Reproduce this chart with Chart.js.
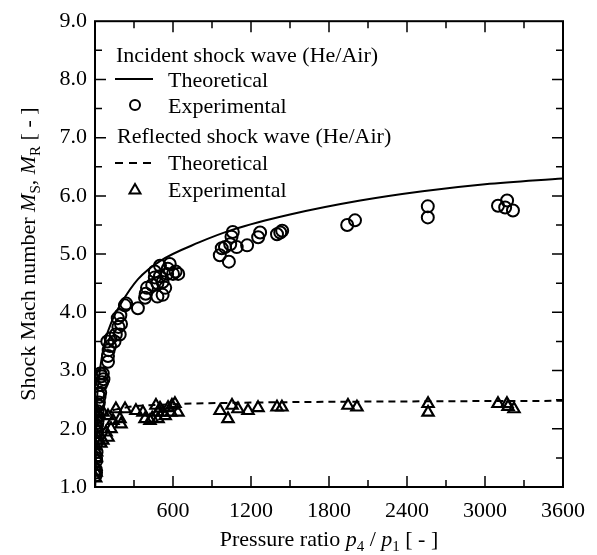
<!DOCTYPE html>
<html>
<head>
<meta charset="utf-8">
<script src="https://cdn.jsdelivr.net/npm/chart.js@4/dist/chart.umd.min.js"></script>
<style>
  html, body { margin: 0; padding: 0; background: #fff; }
  #wrap { width: 597px; height: 555px; position: relative; }
</style>
</head>
<body>
<div id="wrap"><canvas id="shockChart" width="597" height="555"></canvas></div>
<script>
// incident shock wave, experimental (p4/p1, Ms)
let incExpP  = [5, 8, 6, 10, 8, 12, 10, 15, 12, 18, 15, 20, 25, 30, 35, 25, 40, 45, 55, 50, 60, 40, 65,
                100, 100, 105, 115, 95, 150, 120, 160, 190, 180, 200, 175, 195, 230, 240, 330, 385, 390, 400,
                440, 480, 520, 460, 480, 500, 520, 540, 555, 500, 575, 600, 620, 640, 560, 460,
                960, 975, 1000, 1040, 1050, 1060, 1030, 1090, 1170, 1255, 1270, 1400, 1425, 1440,
                1940, 2000, 2560, 2560, 3100, 3170, 3155, 3215];
let incExpMs = [1.2, 1.25, 1.3, 1.45, 1.5, 1.6, 1.75, 1.95, 2.05, 2.1, 2.2, 2.3, 2.4, 2.45, 2.55, 2.6, 2.62, 2.75, 2.8, 2.9, 2.95, 2.95, 2.85,
                3.15, 3.25, 3.35, 3.42, 3.5, 3.5, 3.55, 3.62, 3.62, 3.75, 3.8, 3.9, 3.95, 4.12, 4.15, 4.07, 4.25, 4.32, 4.42,
                4.47, 4.27, 4.3, 4.6, 4.5, 4.62, 4.52, 4.42, 4.66, 4.8, 4.83, 4.66, 4.7, 4.66, 4.75, 4.7,
                4.98, 5.1, 5.12, 5.17, 5.3, 5.38, 4.87, 5.12, 5.15, 5.29, 5.37, 5.34, 5.37, 5.4,
                5.5, 5.58, 5.82, 5.63, 5.83, 5.92, 5.8, 5.75];

// reflected shock wave, experimental (p4/p1, Mr)
let refExpP  = [5, 8, 6, 10, 12, 8, 15, 10, 18, 12, 20, 15, 30, 45, 60, 85, 100, 62, 100, 123, 138, 161, 192, 200,
                231, 315, 369, 385, 423, 440, 469, 485, 485, 500, 523, 540, 562, 585, 592, 615, 638,
                962, 1023, 1054, 1100, 1177, 1254, 1400, 1438, 1946, 2015, 2562, 2562, 3100, 3169, 3177, 3223];
let refExpMr = [1.15, 1.25, 1.35, 1.5, 1.6, 1.7, 1.8, 1.9, 2.0, 2.1, 2.2, 2.3, 2.25, 1.75, 1.8, 1.94, 1.85, 2.28, 2.22, 2.0, 2.14, 2.34, 2.17, 2.08,
                2.34, 2.31, 2.28, 2.17, 2.14, 2.18, 2.4, 2.17, 2.28, 2.35, 2.28, 2.22, 2.36, 2.28, 2.4, 2.43, 2.28,
                2.31, 2.17, 2.4, 2.34, 2.31, 2.36, 2.37, 2.37, 2.4, 2.37, 2.43, 2.28, 2.43, 2.43, 2.38, 2.34];

// theoretical curves
let incTheoP  = [1, 3, 6, 10, 20, 40, 77, 130, 200, 331, 500, 800, 1060, 1500, 2040, 2520, 3000, 3600];
let incTheoMs = [1.0, 1.6, 2.0, 2.3, 2.65, 3.05, 3.5, 3.85, 4.15, 4.57, 4.88, 5.2, 5.42, 5.68, 5.92, 6.08, 6.2, 6.3];
let refTheoP  = [1, 10, 30, 80, 200, 600, 1200, 2400, 3600];
let refTheoMr = [1.0, 1.85, 2.1, 2.25, 2.35, 2.42, 2.45, 2.47, 2.48];

let xMin = 0, xMax = 3600, xStep = 600;
let yMin = 1, yMax = 9, yStep = 1;

const FONT = "'Liberation Serif', 'Times New Roman', serif";

function pts(xs, ys) {
    let out = [];
    for (let i = 0; i < xs.length; i++) out.push({x: xs[i], y: ys[i]});
    return out;
}

// text with italic letters and subscripts, drawn piece by piece
function richText(ctx, parts, x, y) {
    let cx = x;
    parts.forEach(p => {
        let size = p.sub ? 15 : 22;
        ctx.font = (p.it ? 'italic ' : '') + size + 'px ' + FONT;
        ctx.fillText(p.t, cx, y + (p.sub ? 5 : 0));
        cx += ctx.measureText(p.t).width;
    });
    return cx - x;
}
function richWidth(ctx, parts) {
    let w = 0;
    parts.forEach(p => {
        ctx.font = (p.it ? 'italic ' : '') + (p.sub ? 15 : 22) + 'px ' + FONT;
        w += ctx.measureText(p.t).width;
    });
    return w;
}

const xTitle = [{t: 'Pressure ratio '}, {t: 'p', it: true}, {t: '4', sub: true}, {t: ' / '},
                {t: 'p', it: true}, {t: '1', sub: true}, {t: ' [ - ]'}];
const yTitle = [{t: 'Shock Mach number '}, {t: 'M', it: true}, {t: 'S', sub: true}, {t: ', '},
                {t: 'M', it: true}, {t: 'R', sub: true}, {t: ' [ - ]'}];

const framePlugin = {
    id: 'frame',
    afterDraw(chart) {
        const ctx = chart.ctx;
        const a = chart.chartArea;
        const xs = chart.scales.x, ys = chart.scales.y;
        ctx.save();
        ctx.strokeStyle = '#000';
        // inward ticks on all four sides
        ctx.lineWidth = 1.5;
        ctx.beginPath();
        for (let v = xMin + 300; v < xMax; v += 300) {
            let px = xs.getPixelForValue(v);
            let len = (v % xStep === 0) ? 11 : 7;
            ctx.moveTo(px, a.bottom); ctx.lineTo(px, a.bottom - len);
            ctx.moveTo(px, a.top); ctx.lineTo(px, a.top + len);
        }
        for (let v = yMin + 0.5; v < yMax; v += 0.5) {
            let py = ys.getPixelForValue(v);
            let len = (Math.abs(v % 1) < 1e-9) ? 11 : 7;
            ctx.moveTo(a.left, py); ctx.lineTo(a.left + len, py);
            ctx.moveTo(a.right, py); ctx.lineTo(a.right - len, py);
        }
        ctx.stroke();
        ctx.lineWidth = 2;
        ctx.strokeRect(a.left, a.top, a.right - a.left, a.bottom - a.top);

        // axis titles
        ctx.fillStyle = '#000';
        ctx.textBaseline = 'alphabetic';
        ctx.textAlign = 'left';
        let w = richWidth(ctx, xTitle);
        richText(ctx, xTitle, (a.left + a.right) / 2 - w / 2, 546);
        ctx.save();
        ctx.translate(35, (a.top + a.bottom) / 2);
        ctx.rotate(-Math.PI / 2);
        w = richWidth(ctx, yTitle);
        richText(ctx, yTitle, -w / 2, 0);
        ctx.restore();

        // legend
        ctx.font = '22px ' + FONT;
        ctx.fillText('Incident shock wave (He/Air)', 116, 62);
        ctx.fillText('Theoretical', 168, 87);
        ctx.fillText('Experimental', 168, 113);
        ctx.fillText('Reflected shock wave (He/Air)', 117, 143);
        ctx.fillText('Theoretical', 168, 170);
        ctx.fillText('Experimental', 168, 197);
        ctx.lineWidth = 2;
        ctx.beginPath(); ctx.moveTo(115, 79); ctx.lineTo(153, 79); ctx.stroke();
        ctx.setLineDash([8, 6]);
        ctx.beginPath(); ctx.moveTo(115, 163); ctx.lineTo(155, 163); ctx.stroke();
        ctx.setLineDash([]);
        ctx.lineWidth = 2;
        ctx.beginPath(); ctx.arc(135, 105, 5, 0, Math.PI * 2); ctx.stroke();
        ctx.beginPath();
        ctx.moveTo(135, 184); ctx.lineTo(140.5, 193.5); ctx.lineTo(129.5, 193.5); ctx.closePath();
        ctx.stroke();
        ctx.restore();
    }
};

const ctx = document.getElementById('shockChart').getContext('2d');
const chart = new Chart(ctx, {
    type: 'scatter',
    data: {
        datasets: [
            {
                label: 'Incident theoretical',
                type: 'line',
                data: pts(incTheoP, incTheoMs),
                borderColor: '#000',
                borderWidth: 2,
                pointRadius: 0,
                fill: false,
                cubicInterpolationMode: 'monotone'
            },
            {
                label: 'Reflected theoretical',
                type: 'line',
                data: pts(refTheoP, refTheoMr),
                borderColor: '#000',
                borderWidth: 2,
                borderDash: [7, 5],
                pointRadius: 0,
                fill: false,
                cubicInterpolationMode: 'monotone'
            },
            {
                label: 'Incident experimental',
                data: pts(incExpP, incExpMs),
                pointStyle: 'circle',
                pointRadius: 6,
                pointBorderWidth: 2,
                borderColor: '#000',
                backgroundColor: 'rgba(0,0,0,0)'
            },
            {
                label: 'Reflected experimental',
                data: pts(refExpP, refExpMr),
                pointStyle: 'triangle',
                pointRadius: 6.5,
                pointBorderWidth: 2.2,
                borderColor: '#000',
                backgroundColor: 'rgba(0,0,0,0)'
            }
        ]
    },
    options: {
        responsive: false,
        animation: false,
        layout: { padding: { left: 0, top: 17, right: 34, bottom: 0 } },
        plugins: { legend: { display: false }, tooltip: { enabled: false } },
        scales: {
            x: {
                type: 'linear',
                min: xMin, max: xMax,
                grid: { display: false, drawTicks: false },
                border: { display: false },
                ticks: {
                    stepSize: xStep,
                    autoSkip: false,
                    maxRotation: 0,
                    padding: 11,
                    color: '#000',
                    font: { family: FONT, size: 22 },
                    callback: v => v === 0 ? '' : String(v)
                },
                afterFit: s => { s.height = 68; }
            },
            y: {
                min: yMin, max: yMax,
                grid: { display: false, drawTicks: false },
                border: { display: false },
                ticks: {
                    stepSize: yStep,
                    autoSkip: false,
                    padding: 8,
                    color: '#000',
                    font: { family: FONT, size: 22 },
                    callback: v => Number(v).toFixed(1)
                },
                afterFit: s => { s.width = 95; }
            }
        }
    },
    plugins: [framePlugin]
});
</script>
</body>
</html>
